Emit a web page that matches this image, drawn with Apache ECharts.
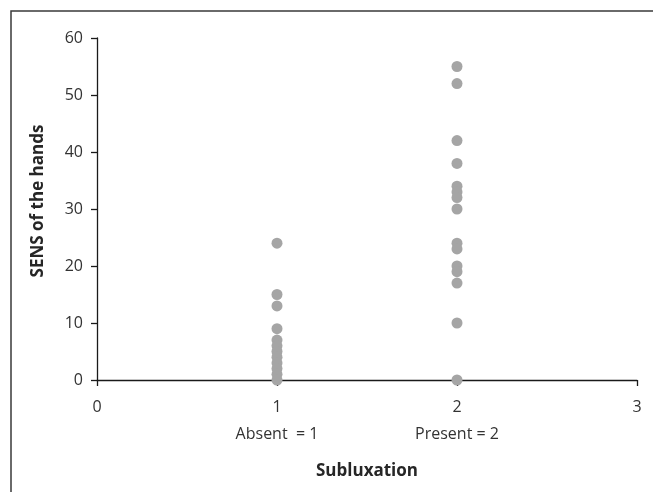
<!DOCTYPE html>
<html><head><meta charset="utf-8">
<script src="https://cdn.jsdelivr.net/npm/echarts@6/dist/echarts.min.js"></script>
<style>html,body{margin:0;padding:0;background:#fff}#c{width:653px;height:492px}</style>
</head><body><div id="c"></div>
<script>
const absentValues = [24, 15, 13, 9, 7, 6, 5, 4, 3, 2, 1, 0];
const presentValues = [55, 52, 42, 38, 34, 33, 32, 30, 24, 23, 20, 19, 17, 10, 0];
const groupX = [1, 2];
const groupLabels = {1: 'Absent  = 1', 2: 'Present = 2'};
const yTicks = [0, 10, 20, 30, 40, 50, 60];

const points = [];
absentValues.forEach(v => points.push([groupX[0], v]));
presentValues.forEach(v => points.push([groupX[1], v]));

const font = "'Open Sans', 'Liberation Sans', sans-serif";
const chart = echarts.init(document.getElementById('c'), null, {renderer: 'canvas'});
chart.setOption({
  animation: false,
  backgroundColor: '#fff',
  graphic: [{
    type: 'rect', shape: {x: 11, y: 11, width: 800, height: 700},
    style: {fill: 'none', stroke: '#3a3a3a', lineWidth: 1.5}, silent: true, z: -1
  }],
  grid: {left: 97, right: 16, top: 38, bottom: 112, containLabel: false},
  xAxis: [{
    type: 'value', min: 0, max: 3, interval: 1,
    name: 'Subluxation', nameLocation: 'middle', nameGap: 83,
    nameTextStyle: {fontFamily: font, fontSize: 17, fontWeight: 'bold', color: '#262626'},
    axisLine: {lineStyle: {color: '#1a1a1a', width: 1.3}},
    axisTick: {show: true, length: 6, inside: false, lineStyle: {color: '#1a1a1a', width: 1.3}},
    axisLabel: {fontFamily: font, fontSize: 16, color: '#333', margin: 19},
    splitLine: {show: false}
  }, {
    type: 'value', min: 0, max: 3, interval: 1, position: 'bottom', offset: 38,
    gridIndex: 0,
    axisLine: {show: false}, axisTick: {show: false}, splitLine: {show: false},
    axisLabel: {fontFamily: font, fontSize: 16, color: '#333',
      formatter: v => groupLabels[v] || ''}
  }],
  yAxis: {
    type: 'value', min: 0, max: 60, interval: 10,
    name: 'SENS of the hands', nameLocation: 'middle', nameGap: 50,
    nameTextStyle: {fontFamily: font, fontSize: 17, fontWeight: 'bold', color: '#262626', padding: [0, 0, 0, 16]},
    axisLine: {show: true, lineStyle: {color: '#1a1a1a', width: 1.3}},
    axisTick: {show: true, length: 6, lineStyle: {color: '#1a1a1a', width: 1.3}},
    axisLabel: {fontFamily: font, fontSize: 16, color: '#333', margin: 14,
      formatter: v => yTicks.includes(v) ? String(v) : ''},
    splitLine: {show: false}
  },
  series: [{
    type: 'scatter', xAxisIndex: 0, data: points, symbolSize: 11,
    itemStyle: {color: '#a5a5a5', opacity: 1}, z: 5
  }]
});
</script></body></html>
